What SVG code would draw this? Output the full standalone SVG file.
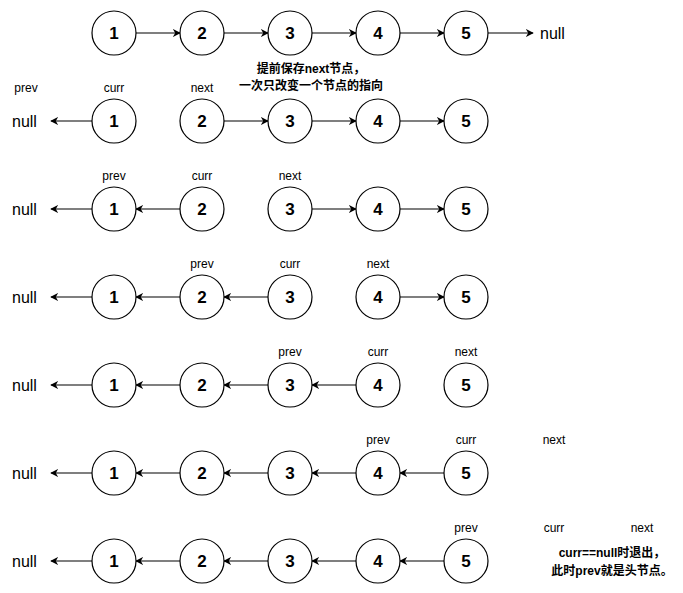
<svg xmlns="http://www.w3.org/2000/svg" width="683" height="593" viewBox="0 0 683 593">
<defs>
<marker id="arr" viewBox="0 0 10 10" refX="9" refY="5" markerWidth="8" markerHeight="8" orient="auto" markerUnits="userSpaceOnUse">
<path d="M0,0 L10,5 L0,10 L3,5 Z" fill="#000"/>
</marker>
</defs>
<style>
circle{fill:#fff;stroke:#000;stroke-width:1.2}
.n{font-family:"Liberation Sans",Arial,sans-serif;font-weight:bold;font-size:17px;text-anchor:middle;dominant-baseline:central}
.nl{font-family:"Liberation Sans",Arial,sans-serif;font-size:16px;dominant-baseline:central}
.lb{font-family:"Liberation Sans",Arial,sans-serif;font-size:12px;text-anchor:middle;dominant-baseline:central}
.note{font-family:"Liberation Sans","Noto Sans CJK SC",sans-serif;font-size:12px;font-weight:bold;text-anchor:middle;dominant-baseline:central}
.c line{stroke:#000;stroke-width:1.2;marker-end:url(#arr)}
</style>
<rect width="683" height="593" fill="#fff"/>
<g class="c" id="connectors">
<!-- row 0 -->
<line x1="136" y1="33" x2="180" y2="33"/>
<line x1="224" y1="33" x2="268" y2="33"/>
<line x1="312" y1="33" x2="356" y2="33"/>
<line x1="400" y1="33" x2="444" y2="33"/>
<line x1="488" y1="33" x2="533" y2="33"/>
<!-- row 1 -->
<line x1="92" y1="121" x2="51" y2="121"/>
<line x1="224" y1="121" x2="268" y2="121"/>
<line x1="312" y1="121" x2="356" y2="121"/>
<line x1="400" y1="121" x2="444" y2="121"/>
<!-- row 2 -->
<line x1="92" y1="209" x2="51" y2="209"/>
<line x1="180" y1="209" x2="136" y2="209"/>
<line x1="312" y1="209" x2="356" y2="209"/>
<line x1="400" y1="209" x2="444" y2="209"/>
<!-- row 3 -->
<line x1="92" y1="297" x2="51" y2="297"/>
<line x1="180" y1="297" x2="136" y2="297"/>
<line x1="268" y1="297" x2="224" y2="297"/>
<line x1="400" y1="297" x2="444" y2="297"/>
<!-- row 4 -->
<line x1="92" y1="385" x2="51" y2="385"/>
<line x1="180" y1="385" x2="136" y2="385"/>
<line x1="268" y1="385" x2="224" y2="385"/>
<line x1="356" y1="385" x2="312" y2="385"/>
<!-- row 5 -->
<line x1="92" y1="473" x2="51" y2="473"/>
<line x1="180" y1="473" x2="136" y2="473"/>
<line x1="268" y1="473" x2="224" y2="473"/>
<line x1="356" y1="473" x2="312" y2="473"/>
<line x1="444" y1="473" x2="400" y2="473"/>
<!-- row 6 -->
<line x1="92" y1="561" x2="51" y2="561"/>
<line x1="180" y1="561" x2="136" y2="561"/>
<line x1="268" y1="561" x2="224" y2="561"/>
<line x1="356" y1="561" x2="312" y2="561"/>
<line x1="444" y1="561" x2="400" y2="561"/>
</g>
<g id="row0">
<g id="r0n1"><circle cx="114" cy="33" r="22"/><text class="n" x="114" y="33">1</text></g>
<g id="r0n2"><circle cx="202" cy="33" r="22"/><text class="n" x="202" y="33">2</text></g>
<g id="r0n3"><circle cx="290" cy="33" r="22"/><text class="n" x="290" y="33">3</text></g>
<g id="r0n4"><circle cx="378" cy="33" r="22"/><text class="n" x="378" y="33">4</text></g>
<g id="r0n5"><circle cx="466" cy="33" r="22"/><text class="n" x="466" y="33">5</text></g>
<text class="nl" id="r0null" x="540" y="33">null</text>
</g>
<g id="note1">
<text class="note" x="311" y="69">提前保存next节点，</text>
<text class="note" x="311" y="86">一次只改变一个节点的指向</text>
</g>
<g id="row1">
<text class="nl" x="12" y="121">null</text>
<g id="r1n1"><circle cx="114" cy="121" r="22"/><text class="n" x="114" y="121">1</text></g>
<g id="r1n2"><circle cx="202" cy="121" r="22"/><text class="n" x="202" y="121">2</text></g>
<g id="r1n3"><circle cx="290" cy="121" r="22"/><text class="n" x="290" y="121">3</text></g>
<g id="r1n4"><circle cx="378" cy="121" r="22"/><text class="n" x="378" y="121">4</text></g>
<g id="r1n5"><circle cx="466" cy="121" r="22"/><text class="n" x="466" y="121">5</text></g>
<text class="lb" x="26" y="88">prev</text>
<text class="lb" x="114" y="88">curr</text>
<text class="lb" x="202" y="88">next</text>
</g>
<g id="row2">
<text class="nl" x="12" y="209">null</text>
<g id="r2n1"><circle cx="114" cy="209" r="22"/><text class="n" x="114" y="209">1</text></g>
<g id="r2n2"><circle cx="202" cy="209" r="22"/><text class="n" x="202" y="209">2</text></g>
<g id="r2n3"><circle cx="290" cy="209" r="22"/><text class="n" x="290" y="209">3</text></g>
<g id="r2n4"><circle cx="378" cy="209" r="22"/><text class="n" x="378" y="209">4</text></g>
<g id="r2n5"><circle cx="466" cy="209" r="22"/><text class="n" x="466" y="209">5</text></g>
<text class="lb" x="114" y="176">prev</text>
<text class="lb" x="202" y="176">curr</text>
<text class="lb" x="290" y="176">next</text>
</g>
<g id="row3">
<text class="nl" x="12" y="297">null</text>
<g id="r3n1"><circle cx="114" cy="297" r="22"/><text class="n" x="114" y="297">1</text></g>
<g id="r3n2"><circle cx="202" cy="297" r="22"/><text class="n" x="202" y="297">2</text></g>
<g id="r3n3"><circle cx="290" cy="297" r="22"/><text class="n" x="290" y="297">3</text></g>
<g id="r3n4"><circle cx="378" cy="297" r="22"/><text class="n" x="378" y="297">4</text></g>
<g id="r3n5"><circle cx="466" cy="297" r="22"/><text class="n" x="466" y="297">5</text></g>
<text class="lb" x="202" y="264">prev</text>
<text class="lb" x="290" y="264">curr</text>
<text class="lb" x="378" y="264">next</text>
</g>
<g id="row4">
<text class="nl" x="12" y="385">null</text>
<g id="r4n1"><circle cx="114" cy="385" r="22"/><text class="n" x="114" y="385">1</text></g>
<g id="r4n2"><circle cx="202" cy="385" r="22"/><text class="n" x="202" y="385">2</text></g>
<g id="r4n3"><circle cx="290" cy="385" r="22"/><text class="n" x="290" y="385">3</text></g>
<g id="r4n4"><circle cx="378" cy="385" r="22"/><text class="n" x="378" y="385">4</text></g>
<g id="r4n5"><circle cx="466" cy="385" r="22"/><text class="n" x="466" y="385">5</text></g>
<text class="lb" x="290" y="352">prev</text>
<text class="lb" x="378" y="352">curr</text>
<text class="lb" x="466" y="352">next</text>
</g>
<g id="row5">
<text class="nl" x="12" y="473">null</text>
<g id="r5n1"><circle cx="114" cy="473" r="22"/><text class="n" x="114" y="473">1</text></g>
<g id="r5n2"><circle cx="202" cy="473" r="22"/><text class="n" x="202" y="473">2</text></g>
<g id="r5n3"><circle cx="290" cy="473" r="22"/><text class="n" x="290" y="473">3</text></g>
<g id="r5n4"><circle cx="378" cy="473" r="22"/><text class="n" x="378" y="473">4</text></g>
<g id="r5n5"><circle cx="466" cy="473" r="22"/><text class="n" x="466" y="473">5</text></g>
<text class="lb" x="378" y="440">prev</text>
<text class="lb" x="466" y="440">curr</text>
<text class="lb" x="554" y="440">next</text>
</g>
<g id="row6">
<text class="nl" x="12" y="561">null</text>
<g id="r6n1"><circle cx="114" cy="561" r="22"/><text class="n" x="114" y="561">1</text></g>
<g id="r6n2"><circle cx="202" cy="561" r="22"/><text class="n" x="202" y="561">2</text></g>
<g id="r6n3"><circle cx="290" cy="561" r="22"/><text class="n" x="290" y="561">3</text></g>
<g id="r6n4"><circle cx="378" cy="561" r="22"/><text class="n" x="378" y="561">4</text></g>
<g id="r6n5"><circle cx="466" cy="561" r="22"/><text class="n" x="466" y="561">5</text></g>
<text class="lb" x="466" y="528">prev</text>
<text class="lb" x="554" y="528">curr</text>
<text class="lb" x="642" y="528">next</text>
</g>
<g id="note2">
<text class="note" x="612" y="553">curr==null时退出，</text>
<text class="note" x="612" y="571">此时prev就是头节点。</text>
</g>
</svg>
